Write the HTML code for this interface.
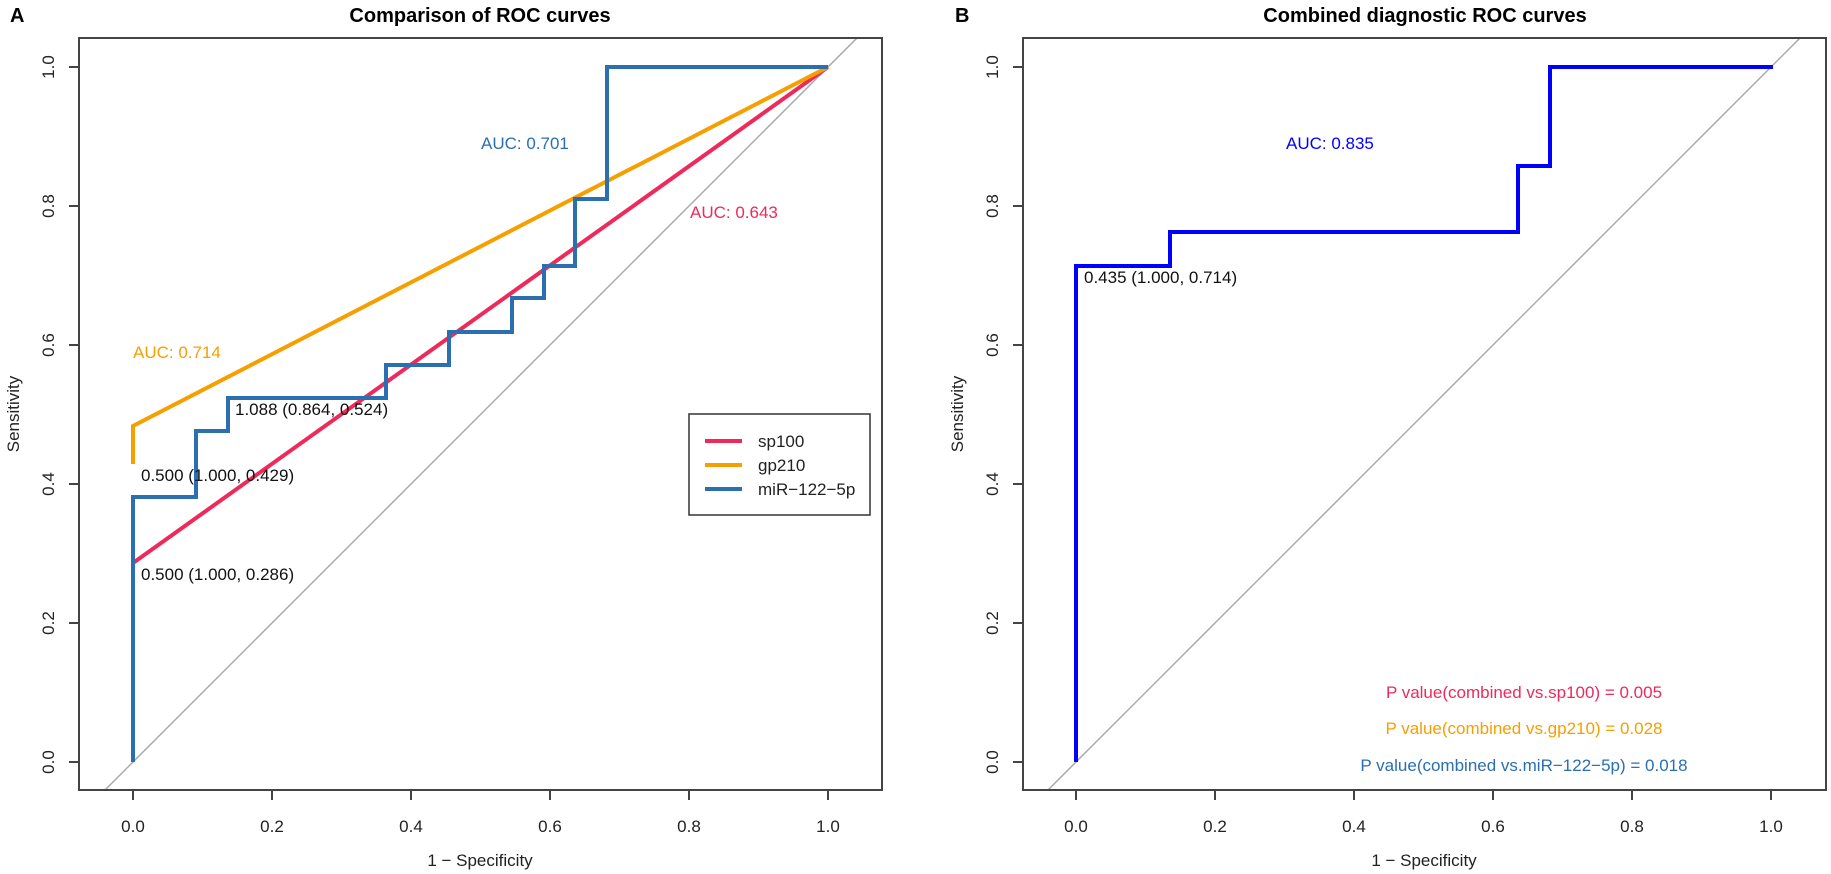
<!DOCTYPE html>
<html><head><meta charset="utf-8"><style>body{margin:0;background:#fff}svg{display:block}text{font-family:"Liberation Sans",Arial,sans-serif}</style></head><body>
<svg width="1831" height="874" viewBox="0 0 1831 874" xmlns="http://www.w3.org/2000/svg">
<defs>
<clipPath id="ca"><rect x="79" y="38" width="803" height="752"/></clipPath>
<clipPath id="cb"><rect x="1023" y="38" width="803" height="752"/></clipPath>
</defs>
<!-- Panel A -->
<text x="10" y="22" font-size="20" font-weight="bold">A</text>
<text x="480" y="22" font-size="20" font-weight="bold" text-anchor="middle">Comparison of ROC curves</text>
<g clip-path="url(#ca)">
<line x1="70" y1="825" x2="900" y2="-5" stroke="#aaa" stroke-width="1.5"/>
</g>
<rect x="79" y="38" width="803" height="752" fill="none" stroke="#444" stroke-width="2"/>
<g stroke="#444" stroke-width="2">
<line x1="133" y1="790" x2="133" y2="800"/><line x1="272" y1="790" x2="272" y2="800"/><line x1="411" y1="790" x2="411" y2="800"/><line x1="550" y1="790" x2="550" y2="800"/><line x1="689" y1="790" x2="689" y2="800"/><line x1="828" y1="790" x2="828" y2="800"/>
<line x1="69" y1="762" x2="79" y2="762"/><line x1="69" y1="623" x2="79" y2="623"/><line x1="69" y1="484" x2="79" y2="484"/><line x1="69" y1="345" x2="79" y2="345"/><line x1="69" y1="206" x2="79" y2="206"/><line x1="69" y1="67" x2="79" y2="67"/>
</g>
<g font-size="17" fill="#222" text-anchor="middle">
<text x="133" y="832">0.0</text><text x="272" y="832">0.2</text><text x="411" y="832">0.4</text><text x="550" y="832">0.6</text><text x="689" y="832">0.8</text><text x="828" y="832">1.0</text>
<text transform="translate(54,762) rotate(-90)">0.0</text><text transform="translate(54,623) rotate(-90)">0.2</text><text transform="translate(54,484) rotate(-90)">0.4</text><text transform="translate(54,345) rotate(-90)">0.6</text><text transform="translate(54,206) rotate(-90)">0.8</text><text transform="translate(54,67) rotate(-90)">1.0</text>
<text x="480" y="866">1 − Specificity</text>
<text transform="translate(19,414) rotate(-90)">Sensitivity</text>
</g>
<polyline points="133,563 828,67" fill="none" stroke="#ee2a5a" stroke-width="4"/>
<polyline points="133,464 133,426 828,67" fill="none" stroke="#f59f00" stroke-width="4"/>
<polyline points="133,762 133,497 196,497 196,431 228,431 228,398 386,398 386,365 449,365 449,332 512,332 512,298 544,298 544,266 575,266 575,199 607,199 607,67 828,67" fill="none" stroke="#2a6fb0" stroke-width="4" stroke-linejoin="miter"/>
<g font-size="17">
<text x="133" y="358" fill="#f59f00">AUC: 0.714</text>
<text x="481" y="149" fill="#2a6fb0">AUC: 0.701</text>
<text x="690" y="218" fill="#ee2a5a">AUC: 0.643</text>
<text x="235" y="415" fill="#111">1.088 (0.864, 0.524)</text>
<text x="141" y="481" fill="#111">0.500 (1.000, 0.429)</text>
<text x="141" y="580" fill="#111">0.500 (1.000, 0.286)</text>
</g>
<rect x="689" y="414" width="181" height="101" fill="#fff" stroke="#333" stroke-width="1.5"/>
<line x1="705" y1="441" x2="742" y2="441" stroke="#ee2a5a" stroke-width="4"/>
<line x1="705" y1="465" x2="742" y2="465" stroke="#f59f00" stroke-width="4"/>
<line x1="705" y1="489" x2="742" y2="489" stroke="#2a6fb0" stroke-width="4"/>
<g font-size="17" fill="#222"><text x="758" y="447">sp100</text><text x="758" y="471">gp210</text><text x="758" y="495">miR−122−5p</text></g>

<!-- Panel B -->
<text x="955" y="22" font-size="20" font-weight="bold">B</text>
<text x="1425" y="22" font-size="20" font-weight="bold" text-anchor="middle">Combined diagnostic ROC curves</text>
<g clip-path="url(#cb)">
<line x1="1013" y1="825" x2="1843" y2="-5" stroke="#aaa" stroke-width="1.5"/>
</g>
<rect x="1023" y="38" width="803" height="752" fill="none" stroke="#444" stroke-width="2"/>
<g stroke="#444" stroke-width="2">
<line x1="1076" y1="790" x2="1076" y2="800"/><line x1="1215" y1="790" x2="1215" y2="800"/><line x1="1354" y1="790" x2="1354" y2="800"/><line x1="1493" y1="790" x2="1493" y2="800"/><line x1="1632" y1="790" x2="1632" y2="800"/><line x1="1771" y1="790" x2="1771" y2="800"/>
<line x1="1013" y1="762" x2="1023" y2="762"/><line x1="1013" y1="623" x2="1023" y2="623"/><line x1="1013" y1="484" x2="1023" y2="484"/><line x1="1013" y1="345" x2="1023" y2="345"/><line x1="1013" y1="206" x2="1023" y2="206"/><line x1="1013" y1="67" x2="1023" y2="67"/>
</g>
<g font-size="17" fill="#222" text-anchor="middle">
<text x="1076" y="832">0.0</text><text x="1215" y="832">0.2</text><text x="1354" y="832">0.4</text><text x="1493" y="832">0.6</text><text x="1632" y="832">0.8</text><text x="1771" y="832">1.0</text>
<text transform="translate(998,762) rotate(-90)">0.0</text><text transform="translate(998,623) rotate(-90)">0.2</text><text transform="translate(998,484) rotate(-90)">0.4</text><text transform="translate(998,345) rotate(-90)">0.6</text><text transform="translate(998,206) rotate(-90)">0.8</text><text transform="translate(998,67) rotate(-90)">1.0</text>
<text x="1424" y="866">1 − Specificity</text>
<text transform="translate(963,414) rotate(-90)">Sensitivity</text>
</g>
<polyline points="1076,762 1076,266 1170,266 1170,232 1518,232 1518,166 1550,166 1550,67 1773,67" fill="none" stroke="#0000ff" stroke-width="4"/>
<g font-size="17">
<text x="1286" y="149" fill="#0000ff">AUC: 0.835</text>
<text x="1084" y="283" fill="#111">0.435 (1.000, 0.714)</text>
<g text-anchor="middle">
<text x="1524" y="698" fill="#ee2a5a">P value(combined vs.sp100) = 0.005</text>
<text x="1524" y="734" fill="#f59f00">P value(combined vs.gp210) = 0.028</text>
<text x="1524" y="771" fill="#2a6fb0">P value(combined vs.miR−122−5p) = 0.018</text>
</g>
</g>
</svg>
</body></html>
